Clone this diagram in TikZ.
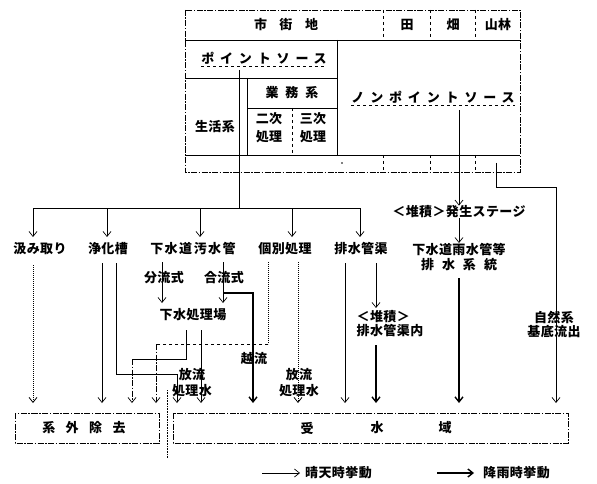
\documentclass[tikz,border=0pt]{standalone}
\usepackage{fontspec}
\setmainfont[LetterSpace=3]{Noto Sans CJK JP}
\newfontfamily\widejp[LetterSpace=45]{Noto Sans CJK JP}
\usetikzlibrary{arrows.meta}
\tikzset{
  txt/.style={inner sep=0pt, font=\fontsize{13}{15}\selectfont\bfseries, align=center},
  widetxt/.style={inner sep=0pt, font=\widejp\fontsize{13}{15}\selectfont\bfseries},
  ln/.style={line width=0.7pt},
  dry/.style={line width=0.7pt, -{Straight Barb[length=5pt,width=8pt]}},
  wet/.style={line width=1.4pt, -{Straight Barb[length=5pt,width=8pt]}},
  dd/.style={line width=0.8pt, dash pattern=on 6pt off 1.5pt on 1.5pt off 1.5pt},
  dotl/.style={line width=0.8pt, dash pattern=on 1.2pt off 0.8pt},
}
\begin{document}
\begin{tikzpicture}[x=1pt,y=-1pt]
\useasboundingbox (0,0) rectangle (597,484);

% ---------- top box ----------
\draw[dd] (185,10) rectangle (520,172);
\draw[ln] (185,40) -- (520,40) (185,155) -- (520,155) (337,40) -- (337,155)
          (185,78) -- (337,78) (247,78) -- (247,155) (247,108) -- (337,108);
\draw[ln,dashed] (383,10)--(383,40) (430,10)--(430,40) (475,10)--(475,40)
          (292,108)--(292,155) (383,155)--(383,172) (430,155)--(430,172) (475,155)--(475,172);
\fill (342,163) circle (0.8);

\node[txt] (shigai) at (286,25) {市\hspace{12.5pt}街\hspace{12.5pt}地};
\node[txt] (ta) at (407,25) {田};
\node[txt] (hata) at (453,25) {畑};
\node[txt] (sanrin) at (498,25) {山林};
\node[widetxt] (point) at (264,58) {ポイントソース};
\draw[ln,dashed] ([yshift=-2pt]point.south west) -- ([yshift=-2pt]point.south east);
\node[txt] (gyomu) at (292,93) {業\hspace{7pt}務\hspace{7pt}系};
\node[txt] (seikatsu) at (215,127) {生活系};
\node[txt, font=\fontsize{13}{18}\selectfont\bfseries] (niji) at (269,128) {二次\\処理};
\node[txt, font=\fontsize{13}{18}\selectfont\bfseries] (sanji) at (313,128) {三次\\処理};
\node[widetxt] (nonpoint) at (433,97) {ノンポイントソース};
\draw[ln,dashed] ([yshift=-2pt]nonpoint.south west) -- ([yshift=-2pt]nonpoint.south east);

% ---------- distribution ----------
\coordinate (ptop) at (239,70);
\coordinate (bus) at (239,208);
\coordinate (busL) at (33,208);
\coordinate (busR) at (360,208);
\draw[ln] (ptop) -- (bus);
\draw[ln] (busL) -- (busR);
\foreach \x in {33,107,200,292,360} \draw[dry] (\x,208) -- (\x,237);

\node[txt] (kumi) at (40,249) {汲み取り};
\node[txt] (joka) at (108,249) {浄化槽};
\node[txt] (gesui) at (193,249) {下\hspace{1.5pt}水\hspace{1.5pt}道\hspace{1.5pt}汚\hspace{1.5pt}水\hspace{1.5pt}管};
\node[txt] (kobetsu) at (285,249) {個別処理};
\node[txt] (haisui) at (361,249) {排水管渠};

\node[txt] (hassei) at (459,212) {＜堆積＞発生ステージ};
\draw[dry] (459,110) -- (hassei.north);
\node[txt] (usui) at (459,257) {下水道雨水管等\\排\hspace{8pt}水\hspace{8pt}系\hspace{8pt}統};
\draw[dry] (hassei.south) -- (usui.north);

% ---------- bottom boxes ----------
\draw[dd] (15,413) rectangle (159,443);
\node[txt] (gaibu) at (84,428) {系\hspace{10.5pt}外\hspace{10.5pt}除\hspace{10.5pt}去};
\draw[dd] (173,413) rectangle (568,443);
\node[txt] (ju) at (307,428) {受};
\node[txt] (sui) at (377,428) {水};
\node[txt] (iki) at (445,428) {域};
\draw[line width=1pt, dash pattern=on 1pt off 0.6pt] (167,390) -- (167,458);

% ---------- middle ----------
\node[txt] (bunryu) at (164,278) {分流式};
\node[txt] (goryu) at (224,278) {合流式};
\node[txt] (shori) at (193,315) {下水処理場};
\node[txt, font=\fontsize{13}{16}\selectfont\bfseries] (horyu1) at (192,383) {放流\\処理水};
\node[txt, font=\fontsize{13}{16}\selectfont\bfseries] (horyu2) at (299,383) {放流\\処理水};
\node[txt] (etsuryu) at (254,359) {越流};
\node[txt, align=left, font=\fontsize{13}{14}\selectfont\bfseries] (taiseki) at (390,324) {＜堆積＞\\排水管渠内};
\node[txt, font=\fontsize{13}{14}\selectfont\bfseries] (shizen) at (554,324) {自然系\\基底流出};

% 汲み取り
\draw[dry, dotl] (33,265) -- (33,403);
% 浄化槽
\draw[dry] (102,263) -- (102,403);
\draw[dry] (116,263) -- (116,374) -- (177,374) -- (177,403);
% 下水道汚水管
\draw[dry] (162,262) -- (162,303);
\draw[dry] (223,262) -- (223,303);
\draw[wet] (223,293) -- (253,293) -- (253,403);
\draw[ln] (186,330) -- (186,359) -- (132,359);
\draw[dry, dd, line width=0.7pt] (132,359) -- (132,403);
\draw[dry] (201,330) -- (201,403);
% 個別処理
\draw[ln, dotl] (268,262) -- (268,344);
\draw[ln, dashed] (268,344) -- (156,344);
\draw[dry, dd, line width=0.7pt] (156,344) -- (156,403);
\draw[dry, dotl] (298,262) -- (298,403);
% 排水管渠
\draw[dry] (345,263) -- (345,403);
\draw[dry] (376,263) -- (376,308);
\draw[wet] (376,345) -- (376,403);
% 雨水
\draw[wet] (459,278) -- (459,403);
% 自然系
\draw[dry] (496,163) -- (496,187) -- (556,187) -- (556,403);

% ---------- legend ----------
\coordinate (l1a) at (262,473); \coordinate (l1b) at (300,473);
\coordinate (l2a) at (437,473); \coordinate (l2b) at (474,473);
\draw[dry] (l1a) -- (l1b);
\node[txt, anchor=west] (seiten) at (305,473) {晴天時挙動};
\draw[wet] (l2a) -- (l2b);
\node[txt, anchor=west] (kou) at (483,473) {降雨時挙動};
\end{tikzpicture}
\end{document}
